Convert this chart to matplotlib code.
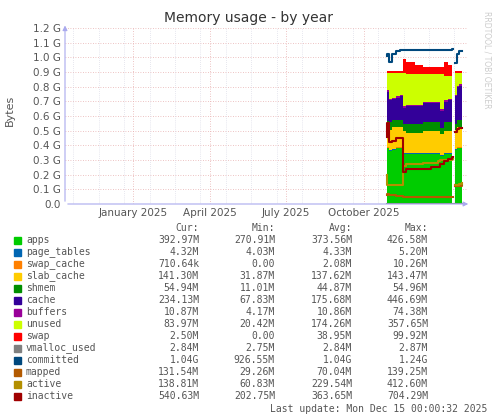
import numpy as np
import matplotlib
matplotlib.use("Agg")
import matplotlib.pyplot as plt

nan = np.nan
days = [27,28,30,33,38,43,45,46,50,60,70,80,88,90,95,100,104,106,108,110,113,116]
apps = [0.36,0.38,0.36,0.37,0.38,0.38,0.38,0.34,0.34,0.34,0.34,0.34,0.34,0.33,0.34,0.34,0.34,nan,0.37,0.38,0.38,0.39]
page_tables = [0.005]*17 + [nan] + [0.005]*4
swap_cache = [0.001]*17 + [nan] + [0.001]*4
slab_cache = [0.12,0.13,0.14,0.15,0.14,0.14,0.14,0.15,0.14,0.14,0.15,0.15,0.15,0.14,0.15,0.15,0.15,nan,0.13,0.14,0.14,0.14]
shmem = [0.04,0.05,0.05,0.05,0.05,0.05,0.05,0.05,0.06,0.06,0.06,0.06,0.06,0.04,0.06,0.06,0.06,nan,0.04,0.05,0.05,0.055]
cache = [0.26,0.20,0.15,0.14,0.15,0.16,0.16,0.11,0.12,0.12,0.13,0.13,0.13,0.12,0.14,0.15,0.16,nan,0.19,0.22,0.23,0.23]
buffers = [0.01]*17 + [nan] + [0.01]*4
unused = [0.08,0.12,0.18,0.17,0.16,0.15,0.15,0.23,0.21,0.21,0.19,0.19,0.19,0.24,0.17,0.16,0.15,nan,0.15,0.09,0.08,0.06]
swap = [0.01,0.01,0.01,0.01,0.01,0.01,0.01,0.09,0.08,0.06,0.05,0.05,0.05,0.05,0.09,0.07,0.07,nan,0.01,0.01,0.01,0.01]
vmalloc_used = [0.003]*17 + [nan] + [0.003]*4
committed = [1.01,1.02,0.97,1.02,1.04,1.05,1.05,1.05,1.05,1.05,1.05,1.05,1.05,1.05,1.05,1.05,1.06,nan,0.96,1.02,1.04,1.04]
mapped = [0.06,0.07,0.06,0.06,0.055,0.055,0.055,0.05,0.05,0.05,0.05,0.05,0.05,0.05,0.05,0.05,0.05,nan,0.12,0.12,0.125,0.13]
active = [0.20,0.13,0.13,0.13,0.13,0.13,0.13,0.26,0.27,0.27,0.28,0.28,0.29,0.30,0.30,0.30,0.31,nan,0.13,0.13,0.135,0.14]
inactive = [0.46,0.55,0.42,0.43,0.45,0.45,0.45,0.22,0.24,0.24,0.24,0.25,0.25,0.27,0.29,0.31,0.32,nan,0.49,0.51,0.52,0.52]

names = ["apps","page_tables","swap_cache","slab_cache","shmem","cache","buffers","unused","swap",
         "vmalloc_used","committed","mapped","active","inactive"]
colors = ["#00CC00","#0066B3","#FF8000","#FFCC00","#008F00","#330099","#990099","#CCFF00","#FF0000",
          "#808080","#00487D","#B35A00","#B38F00","#A00000"]
cur = ["392.97M","4.32M","710.64k","141.30M","54.94M","234.13M","10.87M","83.97M","2.50M","2.84M","1.04G","131.54M","138.81M","540.63M"]
mn = ["270.91M","4.03M","0.00","31.87M","11.01M","67.83M","4.17M","20.42M","0.00","2.75M","926.55M","29.26M","60.83M","202.75M"]
avg = ["373.56M","4.33M","2.08M","137.62M","44.87M","175.68M","10.86M","174.26M","38.95M","2.84M","1.04G","70.04M","229.54M","363.65M"]
mx = ["426.58M","5.20M","10.26M","143.47M","54.96M","446.69M","74.38M","357.65M","99.92M","2.87M","1.24G","139.25M","412.60M","704.29M"]
xtick_pos = [-273,-182,-92,0]
xtick_labels = ["January 2025","April 2025","July 2025","October 2025"]

W, H = 497, 420
fig = plt.figure(figsize=(W/100, H/100), dpi=100)
fig.patch.set_facecolor("white")
ax = fig.add_axes([65/W, 1-204/H, 402/W, 176/H])
x = np.array(days, float)
stack = [apps,page_tables,swap_cache,slab_cache,shmem,cache,buffers,unused,swap]
base = np.zeros(len(x))
for i, s in enumerate(stack):
    s = np.array(s, float)
    top = base + s
    ax.fill_between(x, base, top, color=colors[i], lw=0, step="post")
    base = top
for i, s in enumerate([vmalloc_used,committed,mapped,active,inactive]):
    ax.step(x, s, where="post", color=colors[9+i], lw=1.5)

ax.set_xlim(-353, 122)
ax.set_ylim(0, 1.2)
yt = np.round(np.arange(0, 1.21, 0.1), 1)
ax.set_yticks(yt)
ax.set_yticklabels(["0.0"] + [f"{v:.1f} G" for v in yt[1:]], fontsize=7.5, color="#555555")
ax.set_xticks(xtick_pos)
ax.set_xticklabels(xtick_labels, fontsize=7.5, color="#555555")
ax.tick_params(length=0, pad=3)
for v in yt[1:]:
    ax.axhline(v, color="#e8b0b0", lw=0.6, ls=(0,(1,2)), zorder=0)
for m in range(-353, 122, 30):
    ax.axvline(m+10, color="#d0d0e0", lw=0.5, ls=(0,(1,2)), zorder=0)
for p in xtick_pos:
    ax.axvline(p, color="#e8b0b0", lw=0.6, ls=(0,(1,2)), zorder=0)
for sp in ax.spines.values():
    sp.set_visible(False)
ax.annotate("", xy=(1.01, 0), xytext=(0, 0), xycoords="axes fraction",
            arrowprops=dict(arrowstyle="-|>", color="#aaaaee", lw=0.8, mutation_scale=7))
ax.annotate("", xy=(0, 1.03), xytext=(0, 0), xycoords="axes fraction",
            arrowprops=dict(arrowstyle="-|>", color="#aaaaee", lw=0.8, mutation_scale=7))

fig.text(0.5, 1-18/H, "Memory usage - by year", ha="center", va="center", fontsize=10, color="#333333")
fig.text(10/W, 1-110/H, "Bytes", rotation=90, ha="center", va="center", fontsize=8, color="#555555")
fig.text(487/W, 1-60/H, "RRDTOOL / TOBI OETIKER", rotation=270, ha="center", va="center", fontsize=5.5, color="#cccccc")

mono = "DejaVu Sans Mono"
fs = 7
cols = [199, 275, 352, 428]
for c, h in zip(cols, ["Cur:","Min:","Avg:","Max:"]):
    fig.text(c/W, 1-228/H, h, ha="right", va="center", fontsize=fs, family=mono, color="#555555")
for i, n in enumerate(names):
    yy = 1-(240+12*i)/H
    fig.patches.append(plt.Rectangle((14/W, yy-3.5/H), 7/W, 7/H, transform=fig.transFigure, color=colors[i]))
    fig.text(26/W, yy, n, ha="left", va="center", fontsize=fs, family=mono, color="#555555")
    for c, v in zip(cols, [cur[i], mn[i], avg[i], mx[i]]):
        fig.text(c/W, yy, v, ha="right", va="center", fontsize=fs, family=mono, color="#555555")
fig.text(487/W, 1-409/H, "Last update: Mon Dec 15 00:00:32 2025", ha="right", va="center", fontsize=fs, family=mono, color="#555555")
fig.savefig("out.png", dpi=100)
